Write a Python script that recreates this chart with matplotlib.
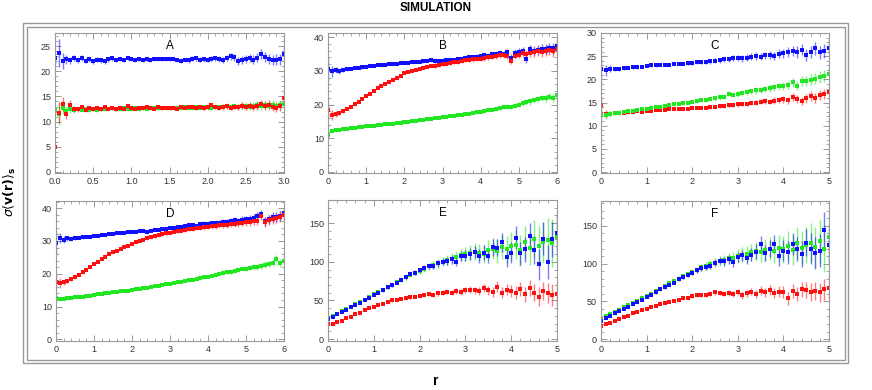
import numpy as np
import matplotlib.pyplot as plt
from matplotlib.colors import to_rgba
from matplotlib.patches import Rectangle
from matplotlib.ticker import MultipleLocator

plt.rcParams['font.family'] = ['Liberation Sans', 'DejaVu Sans']
plt.rcParams['mathtext.fontset'] = 'dejavusans'

# ---- panel A (r from 0 to 3) ----
blue_a = [22.6, 23.6, 22.1, 22.4, 22.2, 22.6, 22.3, 22.7, 22.1, 22.4,
          22.0, 22.3, 22.2, 22.0, 22.4, 22.6, 22.2, 22.5, 22.3, 22.7,
          22.4, 22.2, 22.5, 22.3, 22.4, 22.3, 22.4, 22.5, 22.5, 22.4,
          22.5, 22.5, 22.2, 22.1, 22.3, 22.2, 22.5, 22.6, 22.3, 22.4,
          22.3, 22.5, 22.6, 22.4, 22.3, 22.6, 23.0, 22.8, 22.1, 22.2,
          22.4, 22.6, 22.3, 22.7, 23.4, 22.8, 22.5, 22.2, 22.3, 22.4,
          23.5]
blue_a_err = [1.2, 2.8, 1.6, 0.9, 0.7, 0.6, 0.6, 0.6, 0.5, 0.5,
              0.5, 0.5, 0.5, 0.5, 0.5, 0.5, 0.4, 0.4, 0.4, 0.4,
              0.4, 0.4, 0.4, 0.4, 0.4, 0.4, 0.4, 0.4, 0.4, 0.4,
              0.4, 0.4, 0.4, 0.4, 0.4, 0.5, 0.5, 0.5, 0.5, 0.5,
              0.5, 0.5, 0.5, 0.6, 0.6, 0.6, 0.7, 0.7, 0.8, 0.8,
              0.8, 0.8, 0.9, 0.9, 1.0, 1.0, 1.0, 1.0, 1.1, 1.1,
              1.6]
red_a = [5.0, 11.8, 13.5, 11.6, 13.4, 12.6, 12.5, 12.9, 12.4, 12.7,
         12.6, 12.8, 12.5, 12.9, 12.6, 12.7, 12.5, 12.8, 12.6, 13.2,
         12.7, 12.6, 12.8, 12.7, 12.9, 12.8, 12.6, 12.9, 12.7, 12.8,
         12.7, 12.8, 12.6, 12.9, 12.8, 12.9, 13.0, 12.8, 12.9, 12.7,
         12.9, 13.3, 12.9, 12.8, 13.0, 13.1, 12.8, 13.0, 12.9, 13.2,
         13.0, 13.2, 12.9, 13.1, 13.6, 13.2, 13.4, 13.0, 12.8, 13.1,
         14.6]
red_a_err = [0.2, 2.0, 1.4, 1.0, 0.8, 0.6, 0.5, 0.4, 0.4, 0.4,
             0.4, 0.4, 0.3, 0.3, 0.3, 0.3, 0.3, 0.3, 0.3, 0.3,
             0.3, 0.3, 0.3, 0.3, 0.3, 0.3, 0.3, 0.3, 0.3, 0.3,
             0.3, 0.3, 0.3, 0.3, 0.3, 0.4, 0.4, 0.4, 0.4, 0.4,
             0.4, 0.4, 0.4, 0.5, 0.5, 0.5, 0.5, 0.5, 0.6, 0.6,
             0.6, 0.6, 0.7, 0.7, 0.7, 0.8, 0.8, 0.8, 0.9, 0.9,
             1.2]
green_a = [12.4, 11.6, 12.8, 12.2, 12.5, 12.3, 12.6, 12.4, 12.5, 12.4,
           12.6, 12.4, 12.5, 12.6, 12.5, 12.7, 12.5, 12.6, 12.7, 12.6,
           12.6, 12.7, 12.6, 12.8, 12.6, 12.7, 12.8, 12.7, 12.7, 12.8,
           12.7, 12.8, 12.7, 12.8, 12.9, 12.8, 12.8, 12.9, 12.8, 12.9,
           12.9, 12.8, 13.0, 12.9, 13.0, 13.1, 12.9, 13.1, 13.0, 13.2,
           13.1, 13.0, 13.2, 13.3, 13.1, 13.3, 13.2, 13.4, 13.2, 13.3,
           13.5]
green_a_err = [1.2, 2.2, 1.3, 0.9, 0.7, 0.6, 0.5, 0.5, 0.4, 0.4,
               0.4, 0.4, 0.4, 0.4, 0.4, 0.4, 0.4, 0.4, 0.4, 0.4,
               0.4, 0.4, 0.4, 0.4, 0.4, 0.4, 0.4, 0.4, 0.4, 0.4,
               0.4, 0.4, 0.4, 0.4, 0.4, 0.4, 0.5, 0.5, 0.5, 0.5,
               0.5, 0.5, 0.5, 0.5, 0.6, 0.6, 0.6, 0.6, 0.6, 0.7,
               0.7, 0.7, 0.7, 0.8, 0.8, 0.8, 0.8, 0.9, 0.9, 0.9,
               1.0]

# ---- panel B (r from 0 to 6) ----
blue_b = [30.5, 29.8, 30.2, 29.8, 30.3, 30.4, 30.6, 30.8, 30.9, 31.0,
          31.2, 31.4, 31.4, 31.6, 31.7, 31.8, 31.9, 32.0, 32.1, 32.2,
          32.3, 32.4, 32.5, 32.6, 32.7, 32.8, 33.0, 33.1, 32.8, 33.0,
          32.9, 33.1, 33.2, 33.3, 33.4, 33.6, 33.8, 34.0, 34.1, 34.2,
          34.3, 34.6, 34.5, 34.9, 35.1, 35.3, 35.0, 35.6, 33.8, 35.4,
          35.6, 35.8, 33.5, 36.4, 36.0, 36.3, 36.6, 36.5, 36.8, 36.7,
          37.4]
red_b = [18.5, 16.8, 17.2, 17.6, 18.1, 18.7, 19.4, 20.1, 20.8, 21.6,
         22.4, 23.2, 24.0, 24.8, 25.5, 26.2, 26.8, 27.4, 27.9, 28.4,
         29.2, 29.6, 30.0, 30.3, 30.6, 30.9, 31.2, 31.5, 31.3, 31.6,
         31.9, 32.1, 32.3, 32.5, 32.7, 32.9, 33.1, 33.2, 33.4, 33.5,
         33.6, 33.8, 34.0, 34.2, 34.3, 34.6, 34.7, 34.4, 33.0, 34.5,
         34.8, 35.2, 35.0, 35.3, 35.5, 35.8, 35.6, 35.9, 36.1, 35.8,
         36.4]
green_b = [11.0, 12.2, 12.4, 12.5, 12.6, 12.8, 12.9, 13.0, 13.2, 13.3,
           13.5, 13.6, 13.7, 13.8, 13.9, 14.1, 14.2, 14.3, 14.5, 14.6,
           14.8, 14.9, 15.0, 15.2, 15.3, 15.5, 15.6, 15.8, 15.9, 16.1,
           16.2, 16.4, 16.5, 16.7, 16.8, 17.0, 17.2, 17.3, 17.5, 17.7,
           17.9, 18.1, 18.3, 18.5, 18.7, 19.0, 19.2, 19.4, 19.3, 19.7,
           20.0, 20.4, 20.6, 20.9, 21.3, 21.6, 21.9, 21.8, 22.3, 22.0,
           22.8]

# ---- panel D (r from 0 to 6) ----
blue_d = [29.5, 31.0, 30.4, 30.8, 30.6, 30.9, 31.0, 31.1, 31.2, 31.3,
          31.5, 31.6, 31.7, 31.9, 32.0, 32.1, 32.3, 32.4, 32.5, 32.6,
          32.7, 32.8, 32.9, 33.0, 32.6, 33.2, 33.3, 33.5, 33.6, 33.8,
          33.9, 34.1, 34.3, 34.4, 34.6, 34.8, 35.0, 34.7, 35.2, 35.3,
          35.3, 35.4, 35.6, 35.5, 35.8, 35.9, 36.1, 36.3, 36.0, 36.4,
          36.6, 36.8, 37.0, 37.5, 38.3, 36.0, 36.6, 37.2, 37.3, 37.6,
          38.5]
red_d = [17.5, 17.2, 17.4, 17.8, 18.3, 18.9, 19.6, 20.4, 21.2, 22.0,
         22.9, 23.7, 24.5, 25.2, 25.9, 26.5, 27.1, 27.6, 28.1, 28.6,
         29.1, 29.6, 30.0, 30.4, 30.8, 31.1, 31.4, 31.7, 32.0, 32.3,
         32.5, 32.8, 33.0, 33.2, 33.4, 33.6, 33.8, 33.9, 34.1, 34.2,
         34.4, 34.5, 34.6, 34.8, 34.9, 35.0, 35.2, 35.3, 35.5, 35.6,
         35.7, 35.9, 36.0, 36.2, 37.6, 35.8, 36.4, 36.8, 37.0, 37.4,
         38.0]
green_d = [12.5, 12.2, 12.3, 12.5, 12.6, 12.8, 12.9, 13.0, 13.2, 13.3,
           13.5, 13.7, 13.8, 14.0, 14.1, 14.3, 14.4, 14.6, 14.8, 14.9,
           15.1, 15.3, 15.4, 15.6, 15.8, 16.0, 16.2, 16.4, 16.6, 16.8,
           17.0, 17.2, 17.4, 17.6, 17.8, 18.0, 18.2, 18.4, 18.6, 18.9,
           19.1, 19.4, 19.6, 19.9, 20.1, 20.4, 20.6, 20.8, 21.1, 21.4,
           21.6, 21.9, 22.1, 22.0, 22.4, 22.8, 23.0, 23.4, 24.6, 23.2,
           23.8]

# error bars used for panels B and D
blue_bd_err = [3.5, 1.5, 1.0, 0.8, 0.6, 0.5, 0.4, 0.4, 0.4, 0.4,
               0.3, 0.3, 0.3, 0.3, 0.3, 0.3, 0.3, 0.3, 0.3, 0.3,
               0.3, 0.3, 0.3, 0.3, 0.4, 0.4, 0.4, 0.4, 0.5, 0.5,
               0.5, 0.5, 0.5, 0.5, 0.6, 0.6, 0.6, 0.6, 0.7, 0.7,
               0.7, 0.8, 0.8, 0.8, 0.9, 0.9, 1.0, 1.0, 1.1, 1.1,
               1.1, 1.2, 1.2, 1.3, 1.3, 1.4, 1.4, 1.5, 1.5, 1.6,
               1.7]
red_bd_err = [2.5, 1.5, 0.8, 0.6, 0.5, 0.4, 0.4, 0.3, 0.3, 0.3,
              0.3, 0.3, 0.3, 0.3, 0.3, 0.3, 0.3, 0.3, 0.3, 0.3,
              0.3, 0.3, 0.3, 0.3, 0.4, 0.4, 0.4, 0.4, 0.4, 0.4,
              0.5, 0.5, 0.5, 0.5, 0.6, 0.6, 0.6, 0.6, 0.7, 0.7,
              0.7, 0.8, 0.8, 0.8, 0.9, 0.9, 1.0, 1.0, 1.1, 1.1,
              1.1, 1.2, 1.2, 1.3, 1.3, 1.4, 1.4, 1.5, 1.5, 1.6,
              1.7]
green_bd_err = [1.5, 0.6, 0.4, 0.3, 0.3, 0.2, 0.2, 0.2, 0.2, 0.2,
                0.2, 0.2, 0.2, 0.2, 0.2, 0.2, 0.2, 0.2, 0.2, 0.2,
                0.2, 0.2, 0.2, 0.2, 0.2, 0.3, 0.3, 0.3, 0.3, 0.3,
                0.3, 0.3, 0.3, 0.3, 0.4, 0.4, 0.4, 0.4, 0.4, 0.4,
                0.5, 0.5, 0.5, 0.5, 0.6, 0.6, 0.6, 0.7, 0.7, 0.7,
                0.8, 0.8, 0.8, 0.9, 0.9, 1.0, 1.0, 1.1, 1.1, 1.2,
                1.2]

# ---- panel C (r from 0 to 5) ----
blue_c = [22.3, 22.0, 22.3, 22.2, 22.3, 22.4, 22.5, 22.6, 22.6, 22.7,
          22.9, 23.0, 23.0, 23.1, 23.2, 23.2, 23.3, 23.4, 23.4, 23.5,
          23.6, 23.7, 23.8, 23.8, 23.9, 24.0, 24.1, 24.3, 24.3, 24.6,
          24.6, 24.5, 24.7, 24.9, 25.0, 24.9, 25.2, 25.3, 25.1, 25.5,
          25.6, 25.9, 26.2, 25.9, 26.4, 25.2, 26.0, 26.7, 25.8, 26.2,
          26.8]
blue_c_err = [3.0, 1.2, 0.7, 0.5, 0.4, 0.4, 0.3, 0.3, 0.3, 0.3,
              0.3, 0.3, 0.3, 0.3, 0.3, 0.3, 0.3, 0.3, 0.4, 0.4,
              0.4, 0.4, 0.4, 0.4, 0.5, 0.5, 0.5, 0.5, 0.6, 0.6,
              0.6, 0.7, 0.7, 0.7, 0.8, 0.8, 0.8, 0.9, 0.9, 1.0,
              1.0, 1.1, 1.1, 1.2, 1.2, 1.3, 1.3, 1.4, 1.4, 1.5,
              1.6]
red_c = [14.5, 12.5, 12.6, 12.8, 12.7, 12.8, 12.9, 12.9, 13.1, 13.0,
         13.2, 13.2, 13.3, 13.3, 13.4, 13.5, 13.5, 13.6, 13.6, 13.7,
         13.8, 13.8, 13.9, 13.9, 14.0, 14.1, 14.2, 14.2, 14.4, 14.5,
         14.6, 14.7, 14.7, 14.9, 15.0, 15.2, 15.3, 15.2, 15.4, 15.6,
         15.7, 15.5, 16.2, 15.8, 15.4, 15.9, 16.4, 16.0, 16.6, 16.9,
         17.3]
red_c_err = [2.0, 0.8, 0.5, 0.4, 0.3, 0.3, 0.3, 0.2, 0.2, 0.2,
             0.2, 0.2, 0.2, 0.2, 0.2, 0.2, 0.2, 0.3, 0.3, 0.3,
             0.3, 0.3, 0.3, 0.3, 0.3, 0.4, 0.4, 0.4, 0.4, 0.4,
             0.5, 0.5, 0.5, 0.5, 0.6, 0.6, 0.6, 0.6, 0.7, 0.7,
             0.7, 0.8, 0.8, 0.8, 0.9, 0.9, 1.0, 1.0, 1.1, 1.1,
             1.2]
green_c = [12.3, 12.4, 12.6, 12.7, 12.8, 12.9, 13.1, 13.2, 13.4, 13.5,
           13.7, 13.8, 14.0, 14.1, 14.3, 14.4, 14.6, 14.7, 14.9, 15.0,
           15.2, 15.3, 15.5, 15.6, 15.8, 15.9, 16.1, 16.3, 16.9, 16.6,
           16.9, 17.1, 17.3, 17.4, 17.6, 17.7, 17.9, 18.1, 18.3, 18.5,
           18.6, 18.8, 19.4, 18.6, 19.6, 19.7, 19.9, 20.1, 20.5, 20.7,
           21.2]
green_c_err = [2.0, 0.8, 0.5, 0.4, 0.3, 0.3, 0.3, 0.3, 0.3, 0.3,
               0.3, 0.3, 0.3, 0.3, 0.3, 0.3, 0.3, 0.3, 0.4, 0.4,
               0.4, 0.4, 0.4, 0.4, 0.4, 0.5, 0.5, 0.5, 0.5, 0.5,
               0.6, 0.6, 0.6, 0.6, 0.7, 0.7, 0.7, 0.8, 0.8, 0.8,
               0.9, 0.9, 1.0, 1.0, 1.1, 1.1, 1.2, 1.2, 1.3, 1.3,
               1.4]

# ---- panel E (r from 0 to 5) ----
blue_e = [26, 29, 32, 35, 38, 41, 44, 47, 50, 53,
          57, 60, 63, 67, 70, 73, 77, 80, 84, 86,
          89, 92, 94, 95, 98, 100, 101, 103, 100, 108,
          108, 110, 113, 108, 112, 108, 119, 118, 125, 106,
          112, 131, 111, 116, 133, 115, 97, 130, 100, 129,
          137]
green_e = [27, 30, 33, 36, 39, 42, 45, 48, 51, 54,
           58, 61, 64, 67, 70, 74, 77, 80, 83, 86,
           88, 91, 94, 96, 98, 100, 102, 104, 106, 109,
           110, 112, 113, 112, 110, 115, 117, 114, 119, 116,
           120, 122, 115, 125, 118, 130, 120, 125, 128, 124,
           132]
red_e = [20, 20, 22, 24, 27, 29, 32, 34, 37, 40,
         42, 44, 46, 48, 50, 51, 52, 53, 54, 55,
         56, 57, 58, 57, 59, 60, 61, 60, 62, 61,
         63, 64, 63, 62, 66, 63, 61, 68, 60, 64,
         62, 60, 65, 58, 66, 60, 55, 62, 60, 57,
         58]

# ---- panel F (r from 0 to 5) ----
blue_f = [24, 28, 31, 34, 37, 40, 43, 46, 49, 52,
          56, 59, 62, 66, 69, 72, 75, 79, 82, 85,
          88, 91, 94, 96, 97, 101, 104, 103, 106, 102,
          109, 111, 108, 112, 116, 126, 114, 120, 126, 110,
          117, 115, 126, 119, 113, 128, 120, 114, 117, 145,
          125]
green_f = [27, 30, 33, 36, 39, 42, 45, 48, 51, 54,
           57, 60, 64, 67, 70, 74, 77, 80, 83, 86,
           89, 92, 95, 97, 99, 101, 103, 105, 107, 108,
           110, 112, 113, 115, 117, 115, 118, 120, 117, 121,
           119, 124, 118, 127, 121, 125, 128, 122, 130, 120,
           135]
red_f = [18, 20, 22, 24, 27, 29, 31, 34, 36, 38,
         40, 42, 44, 46, 48, 49, 51, 52, 54, 55,
         57, 58, 58, 59, 60, 62, 61, 60, 61, 60,
         62, 58, 61, 63, 60, 64, 62, 65, 61, 63,
         62, 54, 64, 60, 66, 65, 63, 64, 62, 66,
         68]

# error bars used for panels E and F
blue_ef_err = [1.0, 1.0, 1.0, 1.0, 1.0, 1.0, 1.0, 1.2, 1.2, 1.4,
               1.5, 1.6, 1.8, 2.0, 2.0, 2.2, 2.4, 2.6, 2.8, 3.0,
               3.2, 3.4, 3.6, 4.0, 4.2, 4.5, 5.0, 5.5, 6.0, 6.5,
               7.0, 7.5, 8.0, 9.0, 9.5, 10, 11, 11, 12, 13,
               14, 15, 15, 16, 17, 18, 20, 21, 22, 23,
               25]
green_ef_err = [1.2, 1.2, 1.2, 1.2, 1.2, 1.2, 1.4, 1.4, 1.6, 1.6,
                1.8, 2.0, 2.0, 2.2, 2.4, 2.6, 2.8, 3.0, 3.2, 3.5,
                3.8, 4.0, 4.5, 5.0, 5.5, 6.0, 6.5, 7.0, 7.5, 8.0,
                9.0, 10, 11, 11, 12, 13, 14, 15, 16, 17,
                18, 19, 20, 21, 22, 24, 26, 27, 29, 31,
                34]
red_ef_err = [0.8, 0.8, 0.8, 0.8, 0.8, 0.8, 0.9, 0.9, 1.0, 1.0,
              1.1, 1.2, 1.3, 1.4, 1.5, 1.6, 1.7, 1.8, 1.9, 2.0,
              2.1, 2.2, 2.4, 2.6, 2.8, 3.0, 3.2, 3.4, 3.6, 3.8,
              4.0, 4.3, 4.6, 5.0, 5.4, 5.8, 6.2, 6.6, 7.0, 7.5,
              8.0, 8.5, 9.0, 9.5, 10, 11, 12, 12, 13, 14,
              15]

BLUE = '#1010ff'
RED = '#ff1010'
GREEN = '#22e622'

W, H = 872, 390


def box(l, r, t, b):
    # pixel box -> figure fraction
    return [l / W, 1 - b / H, (r - l) / W, (b - t) / H]


def draw_panel(ax, label, xmax, ylim, xstep, ystep, series):
    for vals, errs, col in series:
        x = np.linspace(0, xmax, len(vals))
        ax.errorbar(x, vals, yerr=errs, fmt='s', ms=2.2, mew=0, color=col,
                    ecolor=to_rgba(col, 0.55), elinewidth=1.0, capsize=0)
    ax.set_xlim(0, xmax)
    ax.set_ylim(*ylim)
    ax.xaxis.set_major_locator(MultipleLocator(xstep))
    ax.xaxis.set_minor_locator(MultipleLocator(xstep / 5))
    ax.yaxis.set_major_locator(MultipleLocator(ystep))
    ax.yaxis.set_minor_locator(MultipleLocator(ystep / 5))
    ax.tick_params(which='both', direction='in', top=True, right=True,
                   color='#999999', labelsize=6.5, labelcolor='#333333', pad=3)
    ax.tick_params(which='major', length=4, width=0.7)
    ax.tick_params(which='minor', length=2, width=0.6)
    for s in ax.spines.values():
        s.set_color('#999999')
        s.set_linewidth(0.8)
    ax.text(0.5, 0.91, label, transform=ax.transAxes, ha='center', va='center',
            fontsize=8.5)


fig = plt.figure(figsize=(W / 100, H / 100), dpi=100)

axA = fig.add_axes(box(55, 284, 33, 173))
draw_panel(axA, 'A', 3, (-0.2, 27.6), 0.5, 5,
           [(green_a, green_a_err, GREEN), (red_a, red_a_err, RED),
            (blue_a, blue_a_err, BLUE)])
axA.xaxis.set_major_formatter('{x:.1f}')

axB = fig.add_axes(box(328, 557, 33, 173))
draw_panel(axB, 'B', 6, (-0.3, 41.2), 1, 10,
           [(green_b, green_bd_err, GREEN), (blue_b, blue_bd_err, BLUE),
            (red_b, red_bd_err, RED)])

axC = fig.add_axes(box(601, 829, 33, 173))
draw_panel(axC, 'C', 5, (-0.2, 30), 1, 5,
           [(red_c, red_c_err, RED), (green_c, green_c_err, GREEN),
            (blue_c, blue_c_err, BLUE)])

axD = fig.add_axes(box(56, 284, 201, 341))
draw_panel(axD, 'D', 6, (-0.5, 42.2), 1, 10,
           [(green_d, green_bd_err, GREEN), (blue_d, blue_bd_err, BLUE),
            (red_d, red_bd_err, RED)])

axE = fig.add_axes(box(328, 557, 200, 341))
draw_panel(axE, 'E', 5, (-2.5, 180), 1, 50,
           [(red_e, red_ef_err, RED), (green_e, green_ef_err, GREEN),
            (blue_e, blue_ef_err, BLUE)])

axF = fig.add_axes(box(601, 829, 201, 341))
draw_panel(axF, 'F', 5, (-2.5, 183), 1, 50,
           [(red_f, red_ef_err, RED), (green_f, green_ef_err, GREEN),
            (blue_f, blue_ef_err, BLUE)])

# double frame round the grid
for (l, t, r, b) in [(23, 23, 848, 363), (27, 27, 845, 360)]:
    fig.add_artist(Rectangle((l / W, 1 - b / H), (r - l) / W, (b - t) / H,
                             transform=fig.transFigure, fill=False,
                             ec='#999999', lw=1.0))

fig.text(436 / W, 1 - 8 / H, 'SIMULATION', ha='center', va='center',
         fontsize=8.5, fontweight='bold')
fig.text(436 / W, 1 - 381 / H, 'r', ha='center', va='center',
         fontsize=10, fontweight='bold')
fig.text(10 / W, 1 - 192 / H, r'$\sigma\langle\mathbf{v(r)}\rangle_\mathbf{s}$',
         ha='center', va='center', rotation=90, fontsize=9)

fig.savefig('out.png', dpi=100)
